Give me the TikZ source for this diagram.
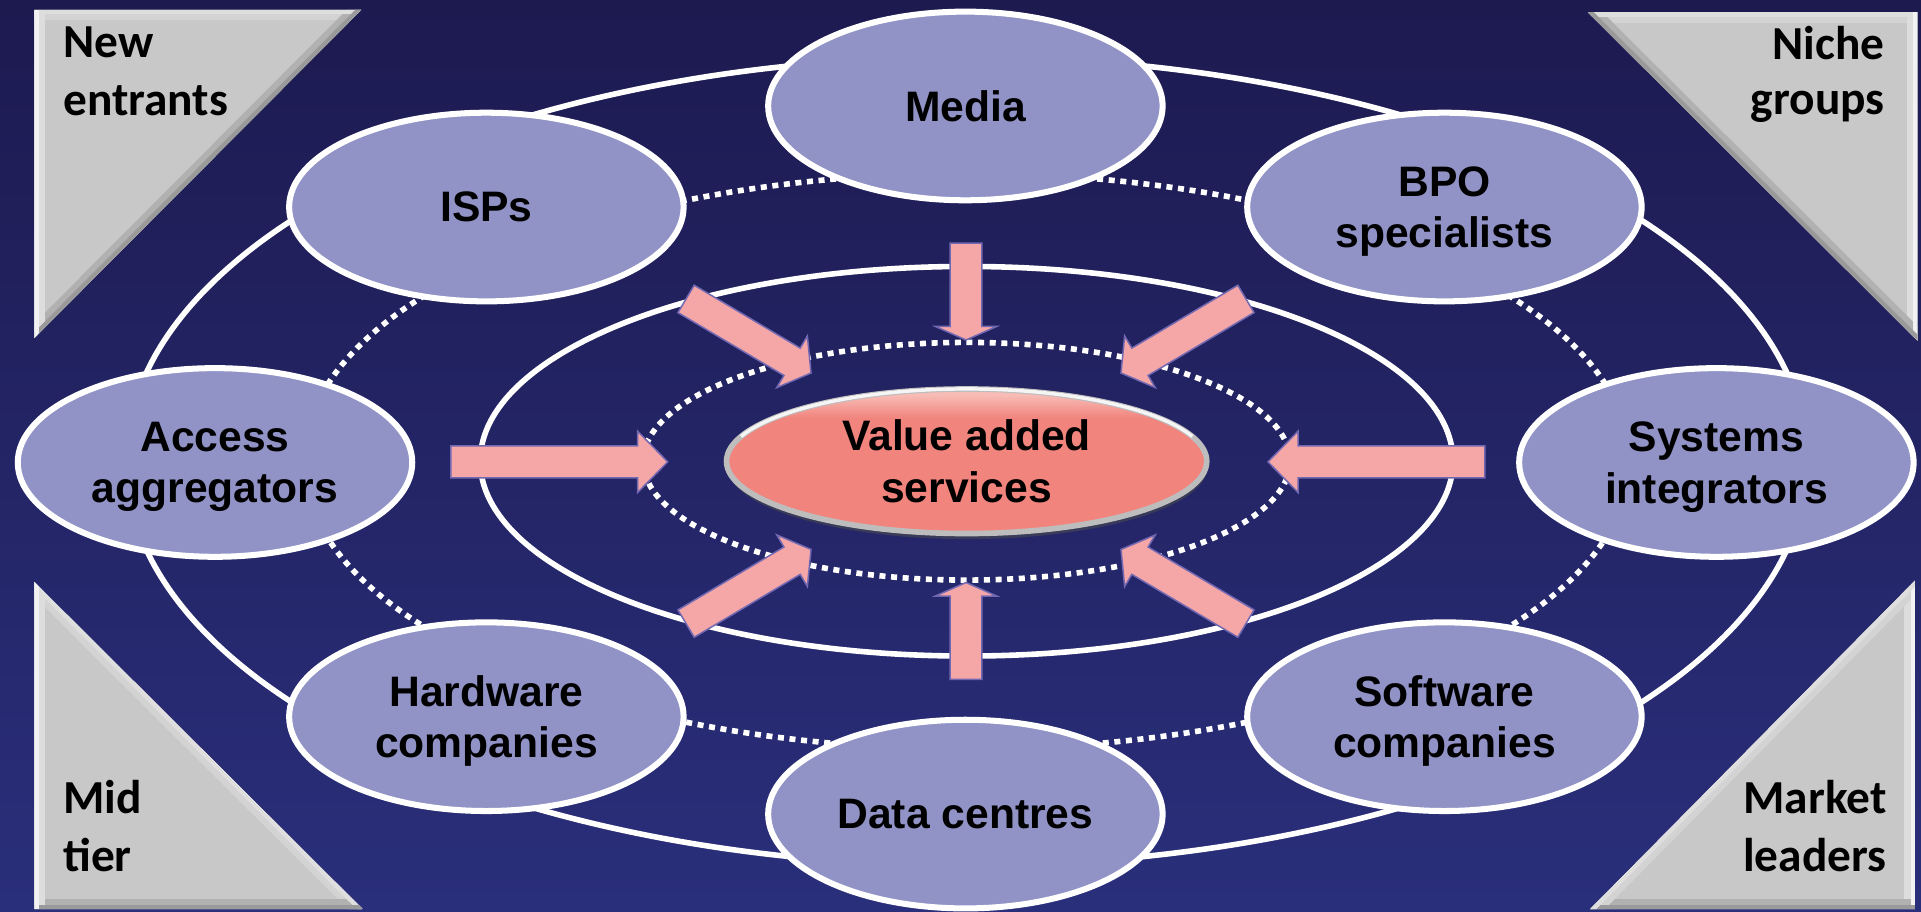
\documentclass[tikz,border=0pt]{standalone}
\usepackage{fontspec}
\setmainfont{Liberation Sans}
\newfontfamily\cornerfont{Carlito}
\usetikzlibrary{shapes.geometric,calc,shadows}
\definecolor{bgtop}{HTML}{1D1A50}
\definecolor{bgbot}{HTML}{2A2F7B}
\definecolor{nodefill}{HTML}{9193C7}
\definecolor{arrowpink}{HTML}{F5A6A6}
\definecolor{arrowedge}{HTML}{7268B2}
\definecolor{trigrey}{HTML}{C8C8C8}
\definecolor{trilight}{HTML}{F2F2F2}
\definecolor{trimid}{HTML}{DEDEDE}
\definecolor{tridark}{HTML}{9A9A9A}
\definecolor{vasbase}{HTML}{F2847E}
\definecolor{vaslight}{HTML}{F8BCB6}
\definecolor{vasrim}{HTML}{BDBDBD}
\pgfdeclareverticalshading{vasshade}{100bp}{color(0bp)=(vasbase); color(65bp)=(vasbase); color(73bp)=(vaslight); color(100bp)=(vaslight)}
\newcommand\nodesc[1]{\raisebox{0pt}[\height][0pt]{#1}}
\newcommand\blockarrow[4]{%
  \coordinate (#1-h) at ($(#2)!#4!(#1)$);
  \path[arrowshape] ($(#1)!1.3mm!90:(#2)$) -- ($(#1-h)!1.3mm!90:(#2)$) -- ($(#1-h)!#3!90:(#2)$) -- (#2)
    -- ($(#1-h)!#3!-90:(#2)$) -- ($(#1-h)!1.3mm!-90:(#2)$) -- ($(#1)!1.3mm!-90:(#2)$) -- cycle;
}
\newcommand\bevel[6]{%
  \begin{scope}
    \clip (#1) -- (#2) -- (#3) -- cycle;
    \fill[trigrey] (#1) -- (#2) -- (#3) -- cycle;
    \draw[line width=1.7mm,#4!50!trigrey] (#1) -- (#2);
    \draw[line width=1.7mm,#5!50!trigrey] (#2) -- (#3);
    \draw[line width=1.7mm,#6!50!trigrey] (#3) -- (#1);
    \draw[line width=0.7mm,#4] (#1) -- (#2);
    \draw[line width=0.7mm,#5] (#2) -- (#3);
    \draw[line width=0.7mm,#6] (#3) -- (#1);
  \end{scope}
}
\begin{document}
\begin{tikzpicture}[x=0.1mm,y=-0.1mm,
  outer/.style={ellipse, draw=white, line width=1.4pt, fill=nodefill, minimum width=32.2mm,
    minimum height=15.4mm, inner sep=0pt, align=center, text=black,
    font={\fontsize{9.9}{12}\selectfont\bfseries}},
  centre/.style={ellipse, draw=vasrim, line width=1.3pt, shade, shading=vasshade,
    minimum width=39.2mm, minimum height=11.8mm, inner sep=0pt, align=center, text=black,
    font={\fontsize{9.9}{12}\selectfont\bfseries},
    drop shadow={shadow xshift=0.2pt, shadow yshift=-1.3pt, fill=black!70, opacity=0.55}},
  ring/.style={draw=white, line width=1.3pt},
  dotring/.style={draw=white, line width=1.3pt, dash pattern=on 1.4pt off 1.3pt},
  arrowshape/.style={fill=arrowpink, draw=arrowedge, line width=0.35pt, line join=miter},
  corner/.style={inner sep=0pt, text=black}
]
\useasboundingbox (0,0) rectangle (1568,744.4);
\shade[top color=bgtop, bottom color=bgbot] (0,0) rectangle (1568,744.4);

% corner triangles
\coordinate (tl1) at (28,8);     \coordinate (tl2) at (295,8);    \coordinate (tl3) at (28,276);
\coordinate (tr1) at (1296,10);  \coordinate (tr2) at (1565,10);  \coordinate (tr3) at (1565,278);
\coordinate (bl1) at (28,475);   \coordinate (bl2) at (296,742);  \coordinate (bl3) at (28,742);
\coordinate (br1) at (1563,474); \coordinate (br2) at (1563,742); \coordinate (br3) at (1298,742);
\bevel{tl1}{tl2}{tl3}{trimid}{tridark}{trilight}
\bevel{tr1}{tr2}{tr3}{trimid}{trilight}{tridark}
\bevel{bl1}{bl2}{bl3}{trimid}{tridark}{trilight}
\bevel{br1}{br2}{br3}{trilight}{tridark}{trimid}

\node[corner, anchor=south west, align=left,
  font={\cornerfont\bfseries\fontsize{11}{13.5}\selectfont}] (newent) at (51,95.2) {New\\\nodesc{entrants}};
\node[corner, anchor=south east, align=right,
  font={\cornerfont\bfseries\fontsize{11}{12.6}\selectfont}] (niche) at (1539,93.9) {Niche\\\nodesc{groups}};
\node[corner, anchor=south west, align=left,
  font={\cornerfont\bfseries\fontsize{11}{13.5}\selectfont}] (midtier) at (51,712) {Mid\\\nodesc{tier}};
\node[corner, anchor=south east, align=right,
  font={\cornerfont\bfseries\fontsize{11}{13.5}\selectfont}] (market) at (1540.5,712.3) {Market\\\nodesc{leaders}};

% rings
\coordinate (ctr) at (789,376.5);
\draw[ring] (ctr) ellipse [x radius=68.6mm, y radius=33mm];
\draw[dotring] (ctr) ellipse [x radius=54.1mm, y radius=23.5mm];
\draw[ring] (ctr) ellipse [x radius=39.7mm, y radius=15.9mm];
\draw[dotring] (ctr) ellipse [x radius=26.4mm, y radius=9.7mm];

% block arrows towards the centre
\coordinate (aTt) at (788.5,198.5);  \coordinate (aTp) at (788.5,277.5);
\coordinate (aBt) at (788.5,554.5);  \coordinate (aBp) at (788.5,475.5);
\coordinate (aLt) at (368,377);      \coordinate (aLp) at (545,377);
\coordinate (aRt) at (1212,377);     \coordinate (aRp) at (1035,377);
\coordinate (aTLt) at (560,244);     \coordinate (aTLp) at (662,304.5);
\coordinate (aTRt) at (1017,244);    \coordinate (aTRp) at (915,304.5);
\coordinate (aBLt) at (560,509);     \coordinate (aBLp) at (662,448.5);
\coordinate (aBRt) at (1017,509);    \coordinate (aBRp) at (915,448.5);
\blockarrow{aTt}{aTp}{2.5mm}{1.1mm}
\blockarrow{aBt}{aBp}{2.5mm}{1.1mm}
\blockarrow{aLt}{aLp}{2.5mm}{2.45mm}
\blockarrow{aRt}{aRp}{2.5mm}{2.45mm}
\blockarrow{aTLt}{aTLp}{2.45mm}{1.8mm}
\blockarrow{aTRt}{aTRp}{2.45mm}{1.8mm}
\blockarrow{aBLt}{aBLp}{2.45mm}{1.8mm}
\blockarrow{aBRt}{aBRp}{2.45mm}{1.8mm}

% outer nodes
\node[outer] (media)    at (788,86.5)    {Media};
\node[outer] (isps)     at (397,169)     {\nodesc{ISPs}};
\node[outer] (bpo)      at (1179,169)    {BPO\\\nodesc{specialists}};
\node[outer] (access)   at (175.5,377.5) {Access\\\nodesc{aggregators}};
\node[outer] (systems)  at (1401,377.5)  {Systems\\\nodesc{integrators}};
\node[outer] (hardware) at (397,585)     {Hardware\\\nodesc{companies}};
\node[outer] (software) at (1179,585)    {Software\\\nodesc{companies}};
\node[outer] (data)     at (788,664.5)   {Data centres};

% centre
\node[centre] (vas) at (ctr) {Value added\\\nodesc{services}};
\draw[white, opacity=0.85, line width=0.8pt] (973.2,356.3) arc[start angle=20, end angle=160, x radius=19.6mm, y radius=5.9mm];
\end{tikzpicture}
\end{document}
